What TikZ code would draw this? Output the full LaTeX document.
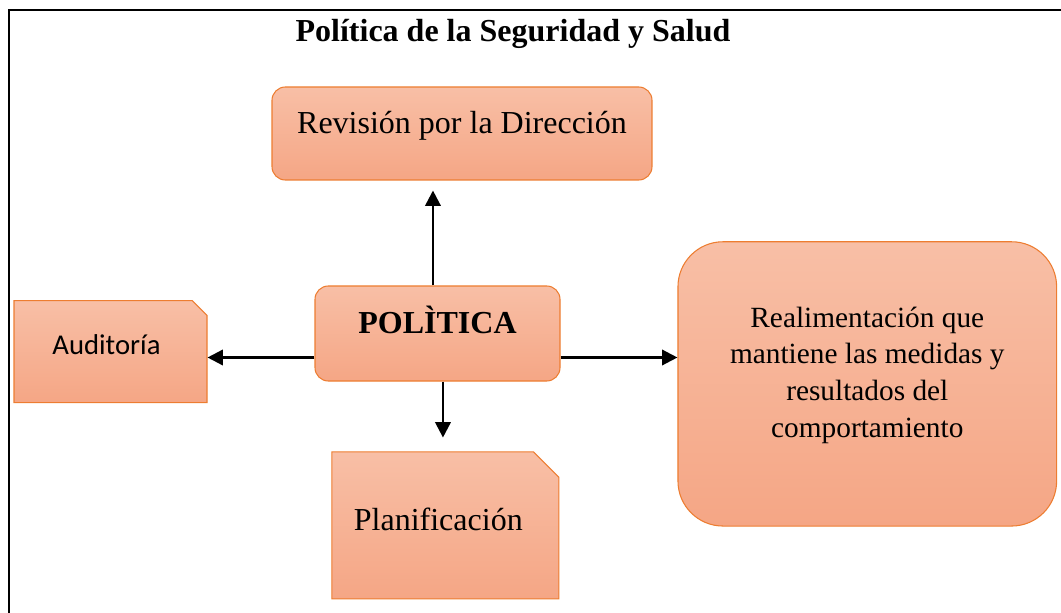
\documentclass[tikz,border=0pt]{standalone}
\usepackage{fontspec}
\setmainfont{Liberation Serif}
\newfontfamily\calibri{Carlito}
\usetikzlibrary{arrows.meta,shapes.misc}
\usetikzlibrary{positioning}

\definecolor{cajaarriba}{RGB}{248,191,166}
\definecolor{cajaabajo}{RGB}{245,166,133}
\definecolor{borde}{RGB}{237,125,49}

\tikzset{
  caja/.style={draw=borde, line width=0.8pt, top color=cajaarriba, bottom color=cajaabajo,
    inner sep=0pt, font=\fontsize{24}{28}\selectfont},
  centrada/.style={text height=9pt, text depth=9pt},
  recorte/.style={caja, chamfered rectangle, chamfered rectangle corners=north east},
  flecha/.style={line width=1.8pt, -{Triangle[length=11.5pt,width=11.5pt]}}
}

\begin{document}
\begin{tikzpicture}[x=0.75pt,y=-0.75pt]
\useasboundingbox (0,0) rectangle (1061,613);
\draw[line width=1.5pt] (1061,10) -- (9,10) -- (9,613);
\node[font=\bfseries\fontsize{24}{28}\selectfont, anchor=base] (titulo) at (513,41.7) {Política de la Seguridad y Salud};
\node[caja, centrada, rounded corners=10pt, minimum width=285pt, minimum height=69.75pt] (revision) at (462,133.5) {Revisión por la Dirección};
\node[caja, centrada, rounded corners=10pt, minimum width=183.75pt, minimum height=71.25pt, font=\bfseries\fontsize{24}{28}\selectfont] (politica) at (437.5,333.5) {POLÌTICA};
\node[recorte, text height=11pt, text depth=7.5pt, chamfered rectangle xsep=5.5pt, chamfered rectangle ysep=5.5pt, minimum width=144.75pt, minimum height=76.5pt, font=\calibri\fontsize{21.5}{26}\selectfont] (auditoria) at (110.5,351.7) {Auditoría\hspace*{6pt}};
\node[recorte, text height=13pt, text depth=5pt, chamfered rectangle xsep=10.5pt, chamfered rectangle ysep=10pt, minimum width=170.25pt, minimum height=110.25pt] (planif) at (445.3,525.3) {Planificación\hspace*{10.5pt}};
\node[caja, rounded corners=33.75pt, minimum width=284pt, minimum height=213.2pt, align=center, font=\fontsize{22}{27.5}\selectfont, text depth=18pt] (realim) at (867.3,383.9) {Realimentación que\\mantiene las medidas y\\resultados del\\comportamiento};
% flechas desde la politica
\draw[flecha, shorten >=7.5pt] ([xshift=-3.4pt]politica.north) -- ([xshift=-3.4pt]politica.north |- revision.south);
\draw[flecha, shorten >=10.3pt] ([xshift=4.1pt]politica.south) -- ([xshift=4.1pt]politica.south |- planif.north);
\draw[flecha] ([yshift=-18pt]politica.west) -- ([yshift=-18pt]politica.west -| auditoria.east);
\draw[flecha] ([yshift=-18pt]politica.east) -- ([yshift=-18pt]politica.east -| realim.west);
\end{tikzpicture}
\end{document}
